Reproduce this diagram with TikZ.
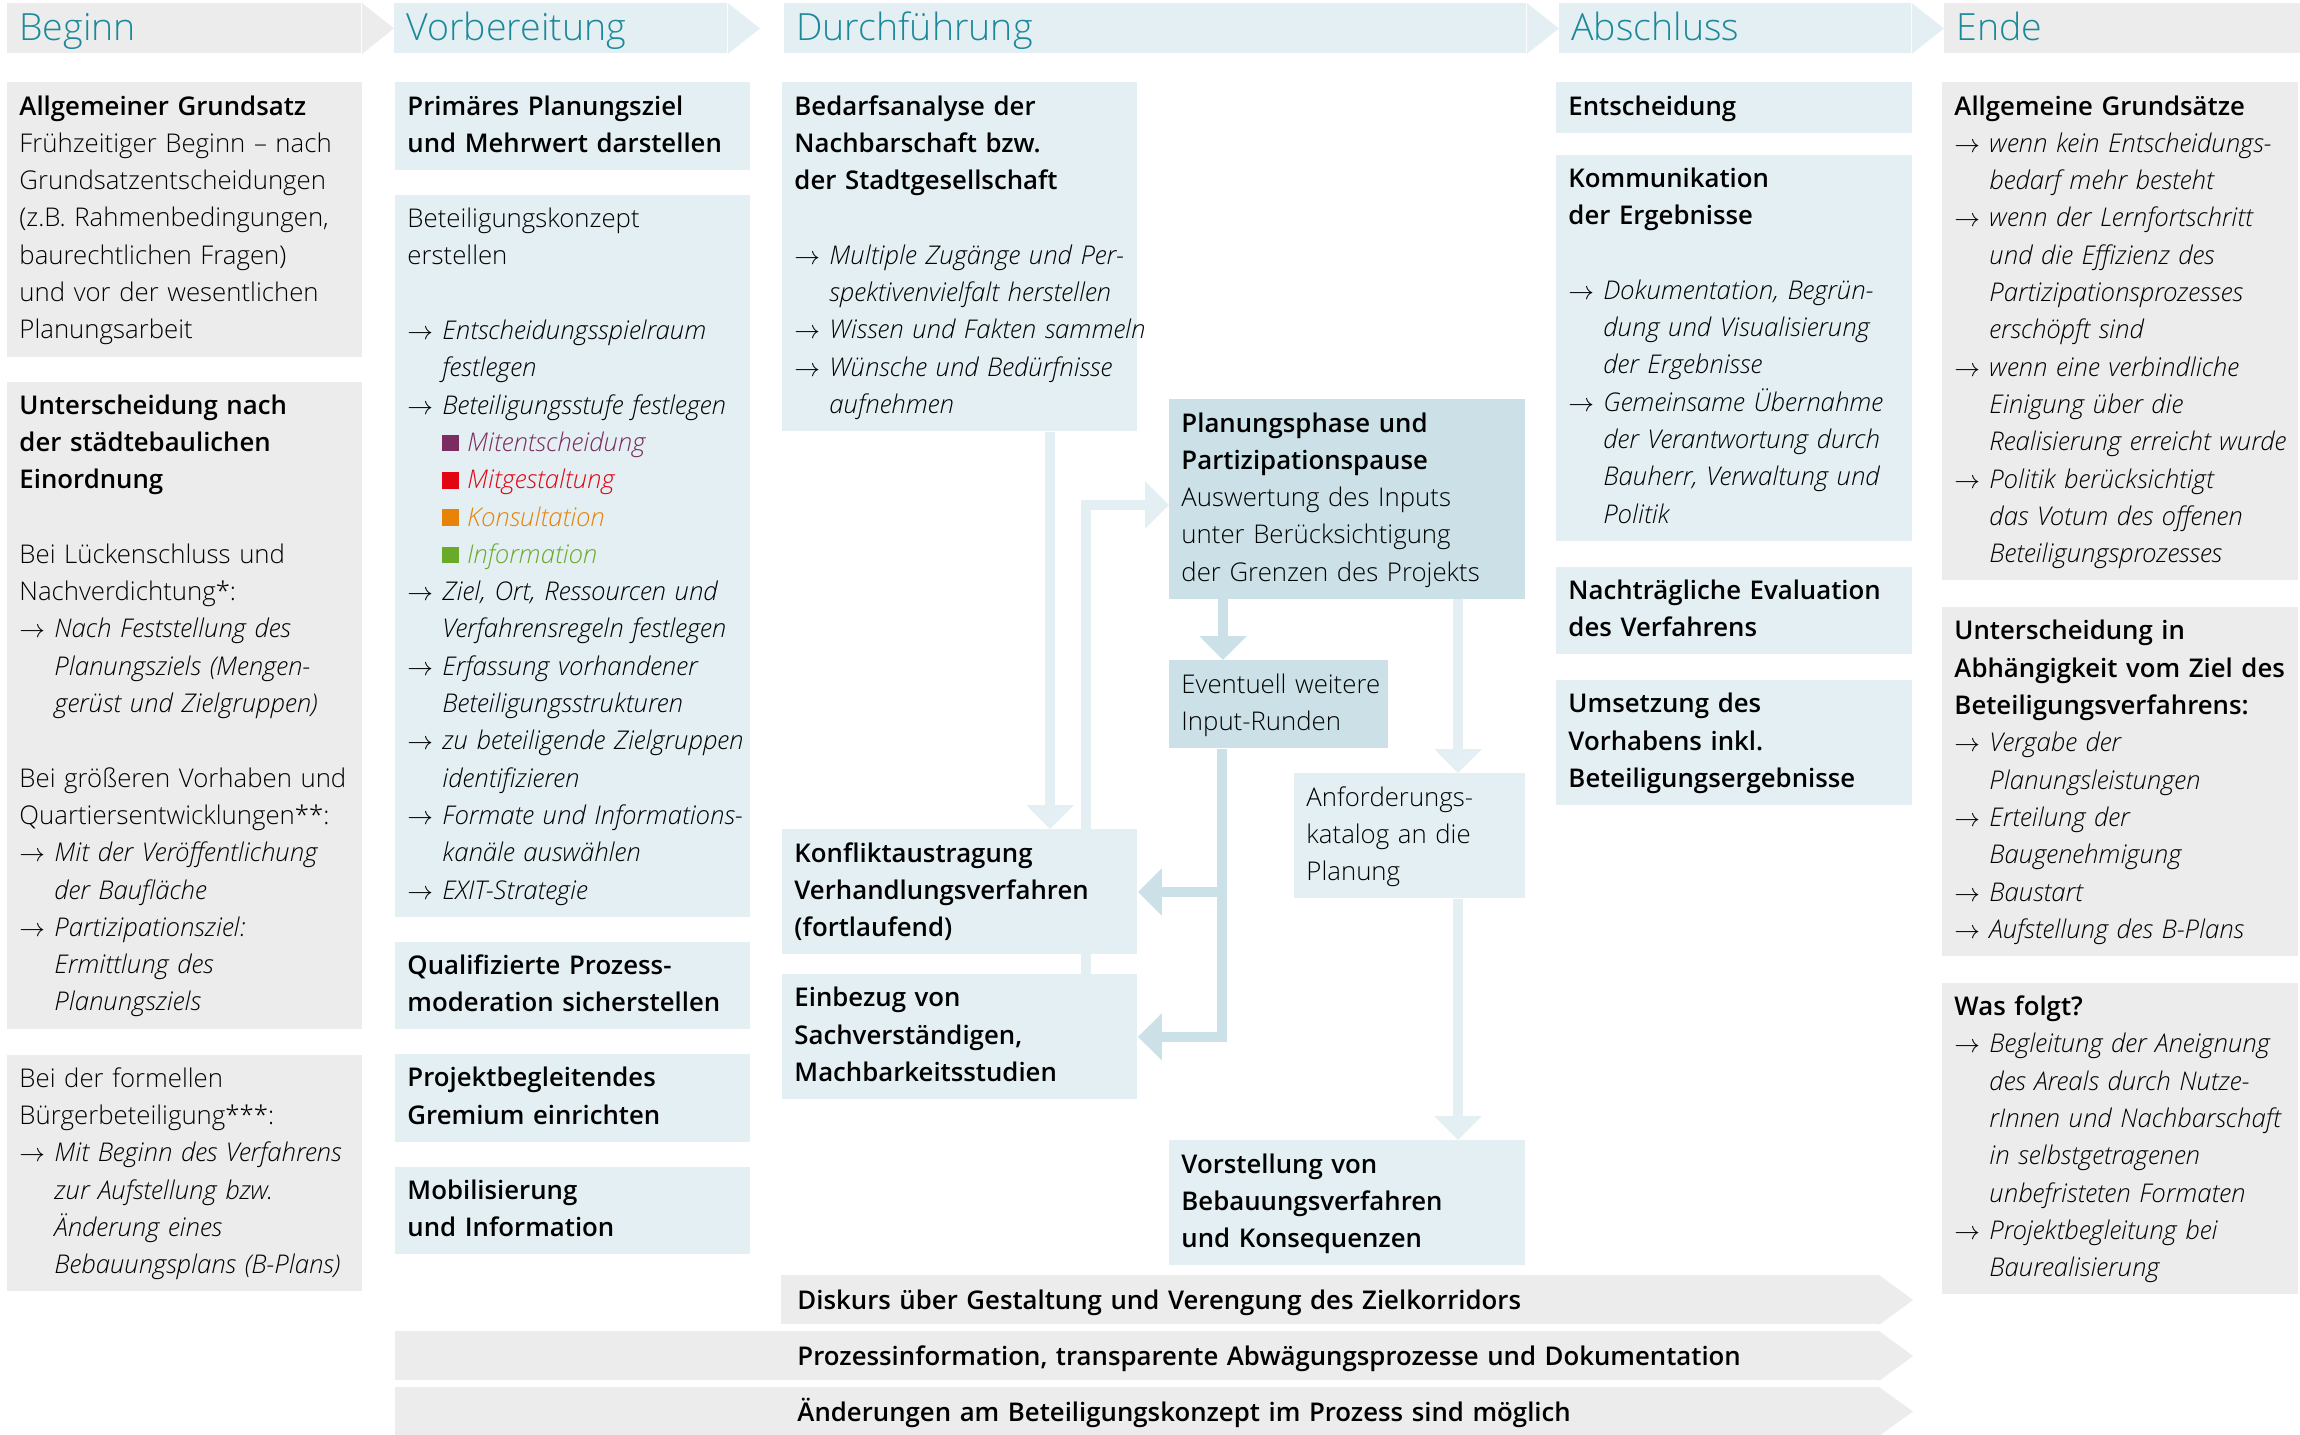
\documentclass[tikz,border=0pt]{standalone}
\usepackage{fontspec}
\usepackage{xcolor}
\usepackage{tikz}
\usetikzlibrary{positioning, arrows.meta, calc}

\IfFontExistsTF{Open Sans Light}{\def\schriftnormal{Open Sans Light}}{\def\schriftnormal{Open Sans}}
\IfFontExistsTF{Open Sans Light Italic}{\def\schriftkursiv{Open Sans Light Italic}}{\def\schriftkursiv{Open Sans Italic}}
\IfFontExistsTF{Open Sans SemiBold}{\def\schriftfett{Open Sans SemiBold}}{%
  \IfFontExistsTF{Open Sans Semibold}{\def\schriftfett{Open Sans Semibold}}{\def\schriftfett{Open Sans Bold}}}
\setmainfont{\schriftnormal}[ItalicFont=\schriftkursiv, BoldFont=\schriftfett, BoldItalicFont=\schriftfett]

\definecolor{grau}{RGB}{236,236,236}
\definecolor{hellblau}{RGB}{227,239,243}
\definecolor{dunkelblau}{RGB}{203,225,231}
\definecolor{petrol}{RGB}{27,137,153}
\definecolor{lila}{RGB}{122,45,94}
\definecolor{rot}{RGB}{226,6,19}
\definecolor{stufeorange}{RGB}{232,131,10}
\definecolor{gruen}{RGB}{106,170,42}

\pgfdeclarelayer{hintergrund}
\pgfsetlayers{hintergrund,main}

\newcommand{\pfeil}{\makebox[5.25mm][l]{$\rightarrow$}}
\newcommand{\weiter}{\hspace*{5.25mm}}
\newcommand{\pkt}[1]{\pfeil\textit{#1}}
\newcommand{\fort}[1]{\weiter\textit{#1}}
\newcommand{\stufe}[2]{\weiter\textcolor{#1}{\rule{2.5mm}{2.5mm}\hspace{1.2mm}\textit{#2}}}

\begin{document}
\begin{tikzpicture}[x=0.15mm, y=-0.15mm,
    feld/.style={rectangle, anchor=north west, inner xsep=1.8mm, inner ysep=0.975mm, text width=49.65mm, align=left, font=\fontsize{11}{15.92}\selectfont, execute at begin node={\rightskip=-40mm plus 1fil\relax\strut}, execute at end node={\strut}},
    grauesfeld/.style={feld, fill=grau},
    hellesfeld/.style={feld, fill=hellblau},
    dunklesfeld/.style={feld, fill=dunkelblau},
    kopf/.style={rectangle, anchor=north west, minimum height=7.5mm, inner xsep=1.8mm, inner ysep=0pt, align=left, text=petrol, font=\fontsize{16}{20}\selectfont, text height=5.4mm, text depth=1.8mm},
    balken/.style={rectangle, anchor=north west, fill=grau, minimum height=7.35mm, inner xsep=2.4mm, inner ysep=0pt, align=left, font=\bfseries\fontsize{11}{15.92}\selectfont, text height=4.5mm, text depth=1.5mm},
    einzug/.style={execute at begin node={\hspace*{57.9mm}}},
    pfeilhell/.style={draw=hellblau, line width=1.5mm, -{Triangle[length=3.6mm, width=6.9mm]}},
    pfeildunkel/.style={pfeilhell, draw=dunkelblau},
]
\useasboundingbox (0,0) rectangle (2300,1435);

% Phasen
\node[kopf, fill=grau, text width=49.5mm] (beginn) at (7,3) {Beginn};
\node[kopf, fill=hellblau, text width=46.35mm, right=4.8mm of beginn] (vorbereitung) {Vorbereitung};
\node[kopf, fill=hellblau, text width=107.7mm, right=8.4mm of vorbereitung] (durchfuehrung) {Durchführung};
\node[kopf, fill=hellblau, text width=49.2mm, right=4.8mm of durchfuehrung] (abschluss) {Abschluss};
\node[kopf, fill=grau, text width=49.95mm, right=4.8mm of abschluss] (ende) {Ende};
\foreach \k/\f in {beginn/grau, vorbereitung/hellblau, durchfuehrung/hellblau, abschluss/hellblau}
  \fill[\f] (\k.north east) -- ($(\k.east)+(32,0)$) -- (\k.south east) -- cycle;

% Beginn
\node[grauesfeld] (grundsatz) at (7,82) {{\bfseries Allgemeiner Grundsatz}\\
  Frühzeitiger Beginn – nach\\
  Grundsatzentscheidungen\\
  (z.B. Rahmenbedingungen,\\
  baurechtlichen Fragen)\\
  und vor der wesentlichen\\
  Planungsarbeit};
\node[grauesfeld, below=3.6mm of grundsatz] (einordnung) {{\bfseries Unterscheidung nach\\
  der städtebaulichen\\
  Einordnung}\\
  \mbox{}\\
  Bei Lückenschluss und\\
  Nachverdichtung*:\\
  \pkt{Nach Feststellung des}\\
  \fort{Planungsziels (Mengen-}\\
  \fort{gerüst und Zielgruppen)}\\
  \mbox{}\\
  Bei größeren Vorhaben und\\
  Quartiersentwicklungen**:\\
  \pkt{Mit der Veröffentlichung}\\
  \fort{der Baufläche}\\
  \pkt{Partizipationsziel:}\\
  \fort{Ermittlung des}\\
  \fort{Planungsziels}};
\node[grauesfeld, below=3.75mm of einordnung] (formell) {Bei der formellen\\
  Bürgerbeteiligung***:\\
  \pkt{Mit Beginn des Verfahrens}\\
  \fort{zur Aufstellung bzw.}\\
  \fort{Änderung eines}\\
  \fort{Bebauungsplans (B-Plans)}};

% Vorbereitung
\node[hellesfeld] (planungsziel) at (395,82) {{\bfseries Primäres Planungsziel\\
  und Mehrwert darstellen}};
\node[hellesfeld, below=3.6mm of planungsziel] (konzept) {Beteiligungskonzept\\
  erstellen\\
  \mbox{}\\
  \pkt{Entscheidungsspielraum}\\
  \fort{festlegen}\\
  \pkt{Beteiligungsstufe festlegen}\\
  \stufe{lila}{Mitentscheidung}\\
  \stufe{rot}{Mitgestaltung}\\
  \stufe{stufeorange}{Konsultation}\\
  \stufe{gruen}{Information}\\
  \pkt{Ziel, Ort, Ressourcen und}\\
  \fort{Verfahrensregeln festlegen}\\
  \pkt{Erfassung vorhandener}\\
  \fort{Beteiligungsstrukturen}\\
  \pkt{zu beteiligende Zielgruppen}\\
  \fort{identifizieren}\\
  \pkt{Formate und Informations-}\\
  \fort{kanäle auswählen}\\
  \pkt{EXIT-Strategie}};
\node[hellesfeld, below=3.6mm of konzept] (moderation) {{\bfseries Qualifizierte Prozess-\\
  moderation sicherstellen}};
\node[hellesfeld, below=3.6mm of moderation] (gremium) {{\bfseries Projektbegleitendes\\
  Gremium einrichten}};
\node[hellesfeld, below=3.6mm of gremium] (mobilisierung) {{\bfseries Mobilisierung\\
  und Information}};

% Durchfuehrung
\node[hellesfeld] (bedarf) at (782,82) {{\bfseries Bedarfsanalyse der\\
  Nachbarschaft bzw.\\
  der Stadtgesellschaft}\\
  \mbox{}\\
  \pkt{Multiple Zugänge und Per-}\\
  \fort{spektivenvielfalt herstellen}\\
  \pkt{Wissen und Fakten sammeln}\\
  \pkt{Wünsche und Bedürfnisse}\\
  \fort{aufnehmen}};
\node[dunklesfeld] (planung) at (1169,399) {{\bfseries Planungsphase und\\
  Partizipationspause}\\
  Auswertung des Inputs\\
  unter Berücksichtigung\\
  der Grenzen des Projekts};
\node[dunklesfeld, text width=29.25mm] (eventuell) at (1169,660) {Eventuell weitere\\
  Input-Runden};
\node[hellesfeld, text width=31.05mm] (anforderung) at (1294,773) {Anforderungs-\\
  katalog an die\\
  Planung};
\node[hellesfeld] (konflikt) at (782,829) {{\bfseries Konfliktaustragung\\
  Verhandlungsverfahren\\
  (fortlaufend)}};
\node[hellesfeld, below=2.85mm of konflikt] (einbezug) {{\bfseries Einbezug von\\
  Sachverständigen,\\
  Machbarkeitsstudien}};
\node[hellesfeld] (vorstellung) at (1169,1140) {{\bfseries Vorstellung von\\
  Bebauungsverfahren\\
  und Konsequenzen}};

% Abschluss
\node[hellesfeld] (entscheidung) at (1556,82) {{\bfseries Entscheidung}};
\node[hellesfeld, below=3.15mm of entscheidung] (kommunikation) {{\bfseries Kommunikation\\
  der Ergebnisse}\\
  \mbox{}\\
  \pkt{Dokumentation, Begrün-}\\
  \fort{dung und Visualisierung}\\
  \fort{der Ergebnisse}\\
  \pkt{Gemeinsame Übernahme}\\
  \fort{der Verantwortung durch}\\
  \fort{Bauherr, Verwaltung und}\\
  \fort{Politik}};
\node[hellesfeld, below=3.75mm of kommunikation] (evaluation) {{\bfseries Nachträgliche Evaluation\\
  des Verfahrens}};
\node[hellesfeld, below=3.75mm of evaluation] (umsetzung) {{\bfseries Umsetzung des\\
  Vorhabens inkl.\\
  Beteiligungsergebnisse}};

% Ende
\node[grauesfeld] (grundsaetze) at (1942,82) {{\bfseries Allgemeine Grundsätze}\\
  \pkt{wenn kein Entscheidungs-}\\
  \fort{bedarf mehr besteht}\\
  \pkt{wenn der Lernfortschritt}\\
  \fort{und die Effizienz des}\\
  \fort{Partizipationsprozesses}\\
  \fort{erschöpft sind}\\
  \pkt{wenn eine verbindliche}\\
  \fort{Einigung über die}\\
  \fort{Realisierung erreicht wurde}\\
  \pkt{Politik berücksichtigt}\\
  \fort{das Votum des offenen}\\
  \fort{Beteiligungsprozesses}};
\node[grauesfeld, below=3.9mm of grundsaetze] (abhaengigkeit) {{\bfseries Unterscheidung in\\
  Abhängigkeit vom Ziel des\\
  Beteiligungsverfahrens:}\\
  \pkt{Vergabe der}\\
  \fort{Planungsleistungen}\\
  \pkt{Erteilung der}\\
  \fort{Baugenehmigung}\\
  \pkt{Baustart}\\
  \pkt{Aufstellung des B-Plans}};
\node[grauesfeld, below=3.9mm of abhaengigkeit] (folgt) {{\bfseries Was folgt?}\\
  \pkt{Begleitung der Aneignung}\\
  \fort{des Areals durch Nutze-}\\
  \fort{rInnen und Nachbarschaft}\\
  \fort{in selbstgetragenen}\\
  \fort{unbefristeten Formaten}\\
  \pkt{Projektbegleitung bei}\\
  \fort{Baurealisierung}};

% Balken unten
\node[balken, minimum width=164.55mm, text width=159.75mm] (diskurs) at (781,1275) {Diskurs über Gestaltung und Verengung des Zielkorridors};
\node[balken, einzug, minimum width=222.45mm, text width=217.65mm] (prozess) at (395,1331) {Prozessinformation, transparente Abwägungsprozesse und Dokumentation};
\node[balken, einzug, minimum width=222.45mm, text width=217.65mm, minimum height=7.2mm] (aenderung) at (395,1387) {Änderungen am Beteiligungskonzept im Prozess sind möglich};
\foreach \b in {diskurs, prozess, aenderung}
  \fill[grau] (\b.north east) -- ($(\b.east)+(34,0)$) -- (\b.south east) -- cycle;

% Verbindungen
\begin{pgfonlayer}{hintergrund}
  \draw[pfeilhell] ($(bedarf.south west)+(268,0)$) -- ($(konflikt.north west)+(268,0)$);
  \draw[pfeilhell] ($(einbezug.north west)+(304,0)$) |- ($(planung.north west)+(0,106)$);
  \draw[pfeildunkel] ($(planung.south west)+(54,0)$) -- ($(eventuell.north west)+(54,0)$);
  \draw[pfeilhell] ($(planung.south west)+(289,0)$) -- ($(anforderung.north west)+(164,0)$);
  \draw[pfeilhell] ($(anforderung.south west)+(164,0)$) -- ($(vorstellung.north west)+(289,0)$);
  \coordinate (ev) at ($(eventuell.south west)+(53,0)$);
  \coordinate (ko) at ($(konflikt.north east)+(0,63)$);
  \coordinate (eb) at ($(einbezug.north east)+(0,63)$);
  \draw[pfeildunkel] (ev) |- (eb);
  \draw[pfeildunkel] (ko -| ev) -- (ko);
\end{pgfonlayer}
\end{tikzpicture}
\end{document}
